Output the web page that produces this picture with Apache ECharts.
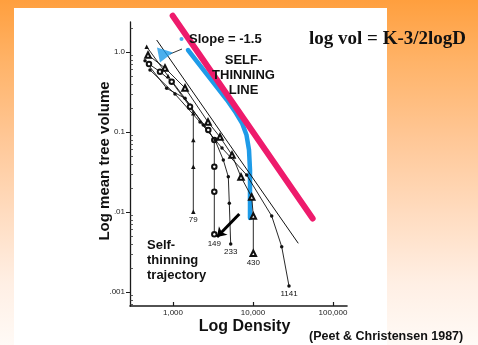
<!DOCTYPE html>
<html>
<head>
<meta charset="utf-8">
<script src="https://cdn.jsdelivr.net/npm/echarts@6/dist/echarts.min.js"></script>
<style>
  html, body { margin: 0; padding: 0; }
  body {
    width: 478px; height: 345px; overflow: hidden; position: relative;
    background: linear-gradient(to bottom, #ff9f3e 0%, #ffb368 18%, #ffc796 40%, #ffdcc0 62%, #ffefe4 82%, #fffaf6 100%);
  }
  #panel { position: absolute; left: 14px; top: 8px; width: 373px; height: 337px; background: #fff; }
  #chart { position: absolute; left: 0; top: 0; width: 478px; height: 345px; }
</style>
</head>
<body>
<div id="panel"></div>
<div id="chart"></div>
<script>
// densities (trees) and mean tree volumes
const pinkLine = [[990, 2.84], [55700, 0.0083]];
const blueLine = [[1540, 1.059], [4732, 0.251], [6131, 0.1728], [7288, 0.1296], [8295, 0.0917],
                  [8913, 0.0596], [9173, 0.0335], [9173, 0.00841]];
const straightLine = [[625, 1.413], [36800, 0.00406]];

const traj79 = [[469, 1.164], [866, 0.501], [1631, 0.2175], [1794, 0.1714], [1794, 0.0794],
                [1794, 0.0368], [1794, 0.0101]];
const traj149 = [[501, 0.708], [688, 0.567], [963, 0.4256], [1631, 0.207], [2761, 0.106],
                 [3284, 0.0794], [3284, 0.0368], [3284, 0.01794], [3284, 0.00526]];
const traj233 = [[447, 0.778], [834, 0.3516], [1413, 0.2636], [2392, 0.1223], [3350, 0.0794],
                 [4255, 0.0447], [4912, 0.0276], [5055, 0.01285], [5263, 0.00398]];
const traj430 = [[487, 0.917], [794, 0.631], [1413, 0.355], [2738, 0.1334], [3868, 0.0866],
                 [5464, 0.0516], [7079, 0.0274], [9634, 0.0154], [10090, 0.00891], [10090, 0.00305]];
const traj1141 = [[516, 0.5957], [1059, 0.2985], [2175, 0.1334], [4097, 0.0631], [8343, 0.029],
                  [17130, 0.00891], [22850, 0.00368], [28180, 0.00119]];

const trajectories = [traj79, traj149, traj233, traj430, traj1141];
const trajLabels = ["79", "149", "233", "430", "1141"];
const trajSymbols = ["triangle", "emptyCircle", "circle", "emptyTriangle", "circle"];

const blueArrowHead = [[794, 0.917]];
const blueDot = [[1277, 1.454]];
const leaderLine = [[917.6, 0.944], [1296, 1.09]];
const blackArrow = [[6742, 0.00944], [3548, 0.00487]];

const xTickValues = [1000, 10000, 100000];
const xTickLabels = ["1,000", "10,000", "100,000"];
const yTickValues = [1, 0.1, 0.01, 0.001];
const yTickLabels = ["1.0", "0.1", ".01", ".001"];

// axis range (log10)
const xMin = 2.4625, xMax = 5.175;
const yMin = -3.175, yMax = 0.375;

const lg = (pts) => pts.map(([d, v]) => [Math.log10(d), Math.log10(v)]);
const xTicks = xTickValues.map(Math.log10);
const yTicks = yTickValues.map(Math.log10);
const labelFor = (ticks, labels) => (val) => {
    const i = ticks.findIndex(t => Math.abs(t - val) < 1e-6);
    return i >= 0 ? labels[i] : "";
};

const minorY = [];
for (let e = -4; e <= 0; e++) {
    for (let m = 2; m <= 9; m++) {
        const v = Math.log10(m) + e;
        if (v > yMin && v < yMax) minorY.push(v);
    }
}

const SANS = "'Liberation Sans', Arial, sans-serif";
const INK = "#111";
const BLUE = "#1e9be8";

const chart = echarts.init(document.getElementById("chart"));

const symSize = { triangle: 4.5, emptyTriangle: 5.5, circle: 3.5, emptyCircle: 4.5 };

const series = [
    {
        type: "line", data: lg(blueLine), symbol: "none", clip: false, z: 3,
        lineStyle: { color: BLUE, width: 4.5, cap: "round", join: "round" }
    },
    {
        type: "line", data: lg(pinkLine), symbol: "none", clip: false, z: 4,
        lineStyle: { color: "#ee1b6c", width: 6, cap: "round" }
    },
    {
        type: "line", data: lg(straightLine), symbol: "none", z: 5,
        lineStyle: { color: INK, width: 1 }
    }
];

trajectories.forEach((traj, k) => {
    const pts = lg(traj);
    const sym = trajSymbols[k];
    series.push({
        type: "line",
        z: 6,
        symbol: sym,
        symbolSize: symSize[sym],
        lineStyle: { color: INK, width: 0.9 },
        itemStyle: { color: INK, borderWidth: 0.7 },
        data: pts.map((p, i) => i === pts.length - 1
            ? { value: p, label: { show: true, position: "bottom", distance: 2, formatter: trajLabels[k],
                                   fontSize: 8, fontFamily: SANS, color: INK } }
            : p)
    });
});

series.push(
    {
        type: "scatter", data: lg(blueArrowHead), symbol: "path://M0,0 L16,5 L3,15 Z", symbolSize: [16, 15],
        itemStyle: { color: BLUE }, z: 7
    },
    {
        type: "scatter", data: lg(blueDot), symbol: "circle", symbolSize: 4,
        itemStyle: { color: BLUE }, z: 7
    },
    {
        type: "lines", coordinateSystem: "cartesian2d", z: 7,
        data: [{ coords: lg(leaderLine) }],
        lineStyle: { color: "#333", width: 1, opacity: 1 }
    },
    {
        type: "lines", coordinateSystem: "cartesian2d", z: 7,
        symbol: ["none", "arrow"], symbolSize: 9,
        data: [{ coords: lg(blackArrow) }],
        lineStyle: { color: "#000", width: 3, opacity: 1 }
    }
);

const option = {
    animation: false,
    backgroundColor: "transparent",
    grid: { left: 130, top: 22, right: 131, bottom: 39 },
    xAxis: {
        type: "value", min: xMin, max: xMax,
        axisLine: { onZero: false, lineStyle: { color: "#1a1a1a", width: 1.6 } },
        axisTick: { customValues: xTicks, inside: true, length: 4, lineStyle: { color: "#1a1a1a", width: 1.2 } },
        axisLabel: { customValues: xTicks, formatter: labelFor(xTicks, xTickLabels), fontSize: 8,
                     fontFamily: SANS, color: "#222", margin: 3 },
        splitLine: { show: false }
    },
    yAxis: [
        {
            type: "value", min: yMin, max: yMax,
            axisLine: { show: true, onZero: false, lineStyle: { color: "#1a1a1a", width: 1.3 } },
            axisTick: { customValues: yTicks, length: 4, lineStyle: { color: "#1a1a1a", width: 1 } },
            axisLabel: { customValues: yTicks, formatter: labelFor(yTicks, yTickLabels), fontSize: 8,
                         fontFamily: SANS, color: "#222", margin: 5 },
            splitLine: { show: false }
        },
        {
            type: "value", min: yMin, max: yMax, position: "left",
            axisLine: { show: false, onZero: false },
            axisTick: { show: true, customValues: minorY, inside: true, length: 3,
                        lineStyle: { color: "#333", width: 0.8 } },
            axisLabel: { show: false },
            splitLine: { show: false }
        }
    ],
    graphic: [
        { type: "text", x: 189, y: 39, z: 100,
          style: { text: "Slope = -1.5", font: "bold 13px " + SANS, fill: INK, textVerticalAlign: "middle" } },
        { type: "text", x: 243.5, y: 75.5, z: 100,
          style: { text: "SELF-\nTHINNING\nLINE", font: "bold 13px " + SANS, lineHeight: 15, fill: INK,
                   textAlign: "center", textVerticalAlign: "middle" } },
        { type: "text", x: 309, y: 39, z: 100,
          style: { text: "log vol = K-3/2logD", font: "bold 19px 'Liberation Serif', 'Times New Roman', serif",
                   fill: INK, textVerticalAlign: "middle" } },
        { type: "text", x: 147, y: 260.5, z: 100,
          style: { text: "Self-\nthinning\ntrajectory", font: "bold 13px " + SANS, lineHeight: 15, fill: INK,
                   textVerticalAlign: "middle" } },
        { type: "text", x: 105, y: 161, z: 100, rotation: Math.PI / 2,
          style: { text: "Log mean tree volume", font: "bold 15px " + SANS, fill: INK,
                   textAlign: "center", textVerticalAlign: "middle" } },
        { type: "text", x: 244.5, y: 326.5, z: 100,
          style: { text: "Log Density", font: "bold 16px " + SANS, fill: INK,
                   textAlign: "center", textVerticalAlign: "middle" } },
        { type: "text", x: 309, y: 337, z: 100,
          style: { text: "(Peet & Christensen 1987)", font: "bold 12.5px " + SANS, fill: INK,
                   textVerticalAlign: "middle" } }
    ],
    series: series
};

chart.setOption(option);
</script>
</body>
</html>
